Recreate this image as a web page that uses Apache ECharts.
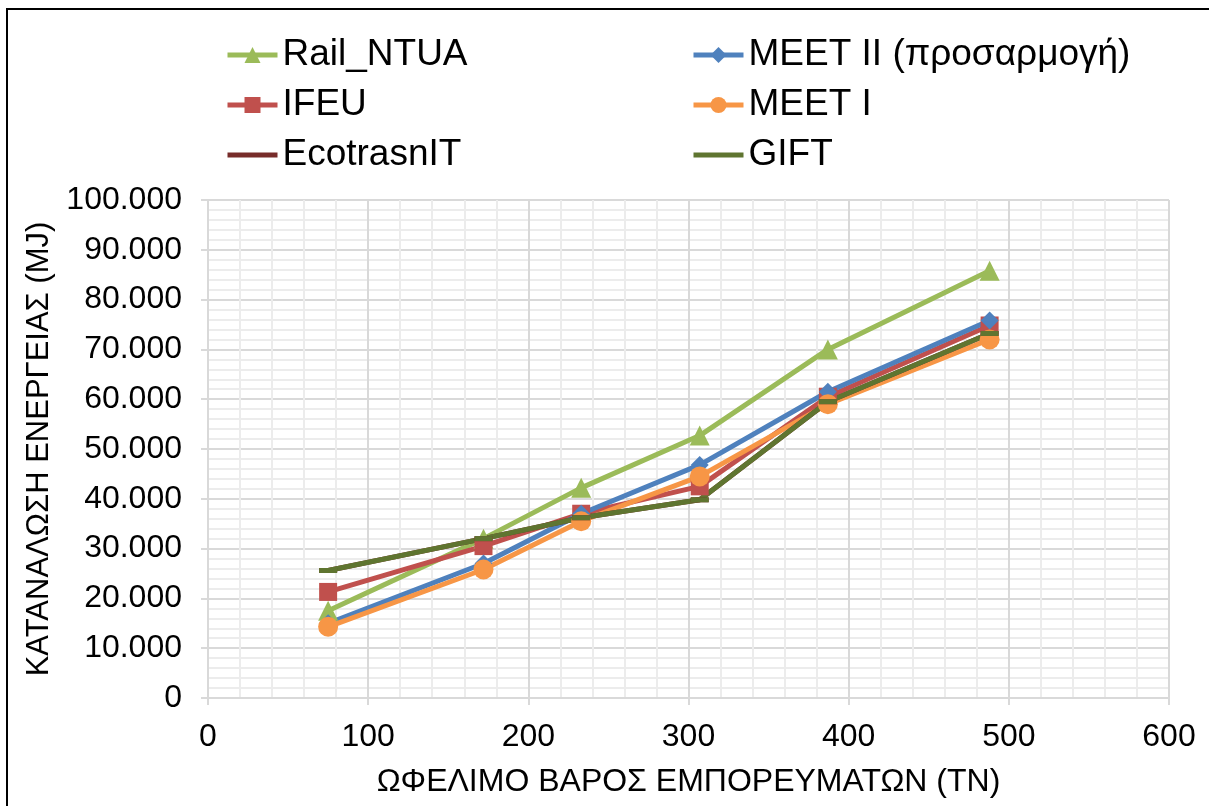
<!doctype html>
<html lang="el">
<head>
    <meta charset="UTF-8">
    <title>Κατανάλωση ενέργειας</title>
    <script src="https://cdn.jsdelivr.net/npm/echarts@6/dist/echarts.min.js"></script>
    <style>
        html, body { margin: 0; padding: 0; background: #fff; }
    </style>
</head>
<body>
    <div id="main" style="width: 1209px;height:806px;"></div>
    <script>
        // ωφέλιμο βάρος (τν) για κάθε σενάριο
        var payload = [75, 172, 233, 307, 387, 488];

        var railNtua = [17500, 32000, 42200, 52700, 70000, 85800];
        var ifeu     = [21300, 30500, 37000, 42500, 60500, 74800];
        var ecotrans = [25600, 32000, 36200, 39800, 59500, 73200];
        var meet2    = [15000, 27000, 37000, 46800, 61500, 75800];
        var meet1    = [14300, 25800, 35500, 44500, 59000, 72000];
        var gift     = [25600, 32000, 36200, 39800, 59500, 73200];

        function pairs(vals) {
            return payload.map(function (x, i) { return [x, vals[i]]; });
        }
        function dots(n) {
            return String(n).replace(/\B(?=(\d{3})+(?!\d))/g, '.');
        }

        var font = 'Liberation Sans, Arial, sans-serif';
        var myChart = echarts.init(document.getElementById('main'));

        function line(name, color, symbol, size, vals) {
            return {
                name: name,
                type: 'line',
                data: pairs(vals),
                symbol: symbol,
                symbolSize: size,
                showAllSymbol: true,
                lineStyle: { color: color, width: 5 },
                itemStyle: { color: color },
                emphasis: { disabled: true },
                z: 3
            };
        }

        var legendText = { fontFamily: font, fontSize: 37, color: '#000', lineHeight: 40 };
        var legendBase = {
            orient: 'vertical',
            top: 30,
            itemWidth: 50,
            itemHeight: 20,
            itemGap: 10,
            lineStyle: { width: 5 },
            textStyle: legendText
        };

        myChart.setOption({
            backgroundColor: '#fff',
            animation: false,
            graphic: [{
                type: 'rect',
                shape: { x: 7, y: 9, width: 1240, height: 840 },
                style: { fill: 'none', stroke: '#000', lineWidth: 2 },
                silent: true
            }],
            legend: [
                Object.assign({}, legendBase, {
                    left: 220,
                    data: ['Rail_NTUA', 'IFEU', { name: 'EcotrasnIT', itemStyle: { opacity: 0 } }]
                }),
                Object.assign({}, legendBase, {
                    left: 686,
                    data: ['MEET II (προσαρμογή)', 'MEET I', { name: 'GIFT', itemStyle: { opacity: 0 } }]
                })
            ],
            grid: { left: 208, right: 40, top: 200, bottom: 108, containLabel: false },
            xAxis: {
                type: 'value',
                min: 0, max: 600, interval: 100,
                name: 'ΩΦΕΛΙΜΟ ΒΑΡΟΣ ΕΜΠΟΡΕΥΜΑΤΩΝ (ΤΝ)',
                nameLocation: 'middle',
                nameGap: 68,
                nameTextStyle: { fontFamily: font, fontSize: 32, color: '#000' },
                axisLine: { show: true, lineStyle: { color: '#d9d9d9', width: 2 } },
                axisTick: { show: true, length: 7, lineStyle: { color: '#d9d9d9', width: 2 } },
                axisLabel: { fontFamily: font, fontSize: 32, color: '#000', margin: 23 },
                splitLine: { show: true, lineStyle: { color: '#d9d9d9', width: 2 } },
                minorTick: { show: false, splitNumber: 5 },
                minorSplitLine: { show: true, lineStyle: { color: '#ececec', width: 2 } }
            },
            yAxis: {
                type: 'value',
                min: 0, max: 100000, interval: 10000,
                name: 'ΚΑΤΑΝΑΛΩΣΗ ΕΝΕΡΓΕΙΑΣ (MJ)',
                nameLocation: 'middle',
                nameGap: 150,
                nameTextStyle: { fontFamily: font, fontSize: 31, color: '#000' },
                axisLine: { show: true, lineStyle: { color: '#d9d9d9', width: 2 } },
                axisTick: { show: true, length: 7, lineStyle: { color: '#d9d9d9', width: 2 } },
                axisLabel: {
                    fontFamily: font, fontSize: 32, color: '#000', margin: 26,
                    formatter: function (v) { return dots(v); }
                },
                splitLine: { show: true, lineStyle: { color: '#d9d9d9', width: 2 } },
                minorTick: { show: false, splitNumber: 5 },
                minorSplitLine: { show: true, lineStyle: { color: '#ececec', width: 2 } }
            },
            series: [
                line('Rail_NTUA', '#9bbb59', 'triangle', 20, railNtua),
                line('IFEU', '#c0504d', 'rect', 18, ifeu),
                line('MEET II (προσαρμογή)', '#4f81bd', 'diamond', 18, meet2),
                line('MEET I', '#f79646', 'circle', 20, meet1),
                line('EcotrasnIT', '#772c2a', 'rect', [18, 5], ecotrans),
                line('GIFT', '#5f7530', 'rect', [18, 5], gift)
            ]
        });
    </script>
</body>
</html>
